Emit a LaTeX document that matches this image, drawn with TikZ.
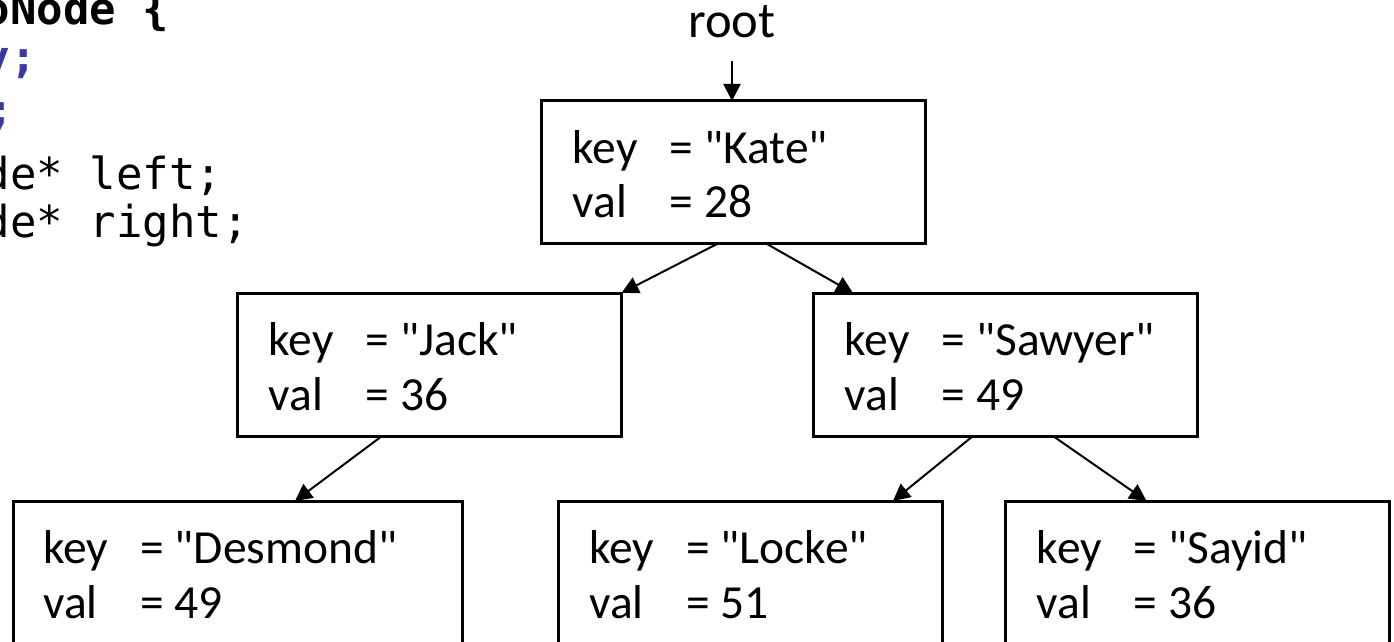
\documentclass[tikz,border=0pt]{standalone}
\usepackage{fontspec}
\setmainfont{Carlito}[Ligatures=TeXOff]
\newfontfamily\codefont{DejaVu Sans Mono}
\usetikzlibrary{arrows.meta,calc}
\definecolor{kwblue}{RGB}{58,58,160}
% key/value line with the "=" signs aligned
\newcommand\kvline[2]{\makebox[48.5pt][l]{#1}= #2}
\begin{document}
\begin{tikzpicture}[x=0.5pt,y=-0.5pt,
  box/.style={draw, line width=1.5pt, rectangle, inner sep=0pt, outer sep=0pt,
              minimum width=192pt, minimum height=71.5pt},
  field/.style={anchor=base west, inner sep=0pt, font=\fontsize{23.75}{28}\selectfont},
  code/.style={anchor=base west, inner sep=0pt, font=\codefont\fontsize{22}{26}\selectfont},
  edge/.style={line width=1pt, -{Triangle[length=8.5pt,width=8.5pt]}}]
\useasboundingbox (0,0) rectangle (1394,642);

% struct definition, partly off the left edge
\node[code] (c1) at (-16.6,25)  {\bfseries oNode \{};
\node[code, text=kwblue] (c2) at (-16.6,73)  {\bfseries y;};
\node[code, text=kwblue] (c3) at (-13,126) {\bfseries ;};
\node[code] (c4) at (-16.6,190) {de* left;};
\node[code] (c5) at (-16.6,238) {de* right;};

% tree nodes
\node[box] (kate)    at (733.5,172.5)  {};
\node[box] (jack)    at (429.5,364.5)  {};
\node[box] (sawyer)  at (1005.5,364.5) {};
\node[box, minimum width=224.5pt] (desmond) at (237.5,572.5) {};
\node[box] (locke)   at (750,572.5)    {};
\node[box] (sayid)   at (1197.5,572.5) {};

\node[field] (katek)  at ($(kate.north west)+(31,62)$)     {\kvline{key}{"Kate"}};
\node[field] (katev)  at ($(kate.north west)+(31,117)$)    {\kvline{val}{28}};
\node[field] (jackk)  at ($(jack.north west)+(31,62)$)     {\kvline{key}{"Jack"}};
\node[field] (jackv)  at ($(jack.north west)+(31,117)$)    {\kvline{val}{36}};
\node[field] (sawk)   at ($(sawyer.north west)+(31,62)$)   {\kvline{key}{"Sawyer"}};
\node[field] (sawv)   at ($(sawyer.north west)+(31,117)$)  {\kvline{val}{49}};
\node[field] (desk)   at ($(desmond.north west)+(30,62)$)  {\kvline{key}{"Desmond"}};
\node[field] (desv)   at ($(desmond.north west)+(30,117)$) {\kvline{val}{49}};
\node[field] (lockk)  at ($(locke.north west)+(31,62)$)    {\kvline{key}{"Locke"}};
\node[field] (lockv)  at ($(locke.north west)+(31,117)$)   {\kvline{val}{51}};
\node[field] (sayk)   at ($(sayid.north west)+(31,62)$)    {\kvline{key}{"Sayid"}};
\node[field] (sayv)   at ($(sayid.north west)+(31,117)$)   {\kvline{val}{36}};

% root pointer
\node[field, anchor=base, font=\fontsize{25.3}{30}\selectfont] (root) at (732,38) {root};
\draw[edge, shorten <=11pt] (root.south) -- (root.south |- kate.north);

% child links
\draw[edge] ($(kate.south)+(-16.5,0)$)  -- (jack.north east);
\draw[edge] ($(kate.south)+(33.5,0)$)   -- ($(sawyer.north west)+(39.5,0)$);
\draw[edge] ($(jack.south)+(-47.5,0)$)  -- ($(desmond.north)+(57.5,0)$);
\draw[edge] ($(sawyer.south)+(-32.5,0)$) -- ($(locke.north east)+(-49,0)$);
\draw[edge] ($(sawyer.south)+(47.5,0)$) -- ($(sayid.north west)+(141,0)$);
\end{tikzpicture}
\end{document}
